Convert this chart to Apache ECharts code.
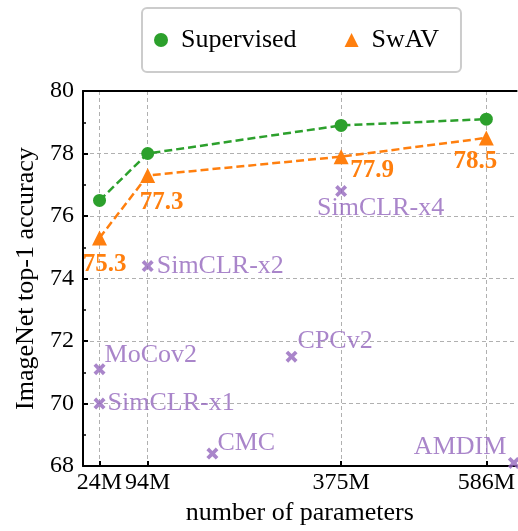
<!DOCTYPE html>
<html><head><meta charset="utf-8">
<script src="https://cdn.jsdelivr.net/npm/echarts@6/dist/echarts.min.js"></script>
<style>html,body{margin:0;padding:0;background:#fff}#c{width:518px;height:531px}</style>
</head><body><div id="c"></div>
<script>
// ---- data ----
const params = [24, 94, 375, 586];
const supervised = [76.5, 78.0, 78.9, 79.1];
const swav = [75.3, 77.3, 77.9, 78.5];
const otherNames = ['MoCov2', 'SimCLR-x1', 'SimCLR-x2', 'SimCLR-x4', 'CMC', 'CPCv2', 'AMDIM'];
const otherParams = [24, 24, 94, 375, 188, 303, 626];
const otherAcc = [71.1, 70.0, 74.4, 76.8, 68.4, 71.5, 68.1];
const xTickValues = [24, 94, 375, 586];

// ---- label placement (style) ----
const swavLabelOffsets = [[5, 27], [14, 27], [31, 14], [-11, 24]];
const otherLabelOffsets = [[5, -14], [8, 0], [9, 0], [-24, 17], [5, -10], [6, -16], [-100, -16]];

const FONT = 'Liberation Serif';
const GREEN = '#2ca02c', ORANGE = '#ff7f0e', PURPLE = '#9467bd';
const legendText = {fontFamily: FONT, fontSize: 26, color: '#000', padding: [0, 0, 0, 8]};

const chart = echarts.init(document.getElementById('c'), null, {renderer: 'canvas'});
chart.setOption({
  animation: false,
  backgroundColor: '#fff',
  textStyle: {fontFamily: FONT},
  grid: {left: 83, right: 0, top: 91, bottom: 58, containLabel: false},
  legend: {
    left: 142, top: 8,
    data: [{name: 'Supervised', icon: 'circle'}, {name: 'SwAV', icon: 'triangle'}],
    itemWidth: 14, itemHeight: 14, itemGap: 48,
    padding: [19, 22, 19, 12], borderColor: '#cccccc', borderWidth: 2, borderRadius: 5,
    textStyle: legendText
  },
  xAxis: [{
    type: 'value', min: 0, max: 630,
    name: 'number of parameters', nameLocation: 'middle', nameGap: 22,
    nameTextStyle: {fontFamily: FONT, fontSize: 26, color: '#000'},
    axisLine: {show: true, onZero: false, lineStyle: {color: '#000', width: 2}},
    axisTick: {show: true, inside: true, length: 5, lineStyle: {color: '#000', width: 2}, customValues: xTickValues},
    axisLabel: {fontFamily: FONT, fontSize: 24, color: '#000', margin: 5, customValues: xTickValues,
      formatter: v => v + 'M'},
    splitLine: {show: true, lineStyle: {color: '#b0b0b0', width: 1, type: [4, 3]}}
  }, {
    type: 'value', min: 0, max: 630, position: 'top',
    axisLine: {show: true, onZero: false, lineStyle: {color: '#000', width: 2}},
    axisTick: {show: false}, axisLabel: {show: false}, splitLine: {show: false}
  }],
  yAxis: {
    type: 'value', min: 68, max: 80, interval: 2,
    name: 'ImageNet top-1 accuracy', nameLocation: 'middle', nameGap: 44, nameRotate: 90,
    nameTextStyle: {fontFamily: FONT, fontSize: 26, color: '#000'},
    axisLine: {show: true, onZero: false, lineStyle: {color: '#000', width: 2}},
    axisTick: {show: true, inside: true, length: 5, lineStyle: {color: '#000', width: 2}},
    minorTick: {show: true, splitNumber: 2, length: 3, lineStyle: {color: '#000', width: 1.5}},
    axisLabel: {fontFamily: FONT, fontSize: 24, color: '#000', margin: 9},
    splitLine: {show: true, lineStyle: {color: '#b0b0b0', width: 1, type: [4, 3]}}
  },
  series: [{
    name: 'Supervised', type: 'line',
    data: params.map((p, i) => [p, supervised[i]]),
    symbol: 'circle', symbolSize: 13,
    itemStyle: {color: GREEN},
    lineStyle: {color: GREEN, width: 2.5, type: [8, 4]},
    z: 3
  }, {
    name: 'SwAV', type: 'line',
    data: params.map((p, i) => ({
      value: [p, swav[i]],
      label: {offset: swavLabelOffsets[i]}
    })),
    symbol: 'triangle', symbolSize: 15,
    itemStyle: {color: ORANGE},
    lineStyle: {color: ORANGE, width: 2.5, type: [8, 4]},
    label: {show: true, position: 'inside', color: ORANGE, fontFamily: FONT, fontSize: 25, fontWeight: 'bold',
      formatter: p => p.value[1].toFixed(1)},
    z: 4
  }, {
    name: 'others', type: 'scatter',
    data: otherNames.map((n, i) => ({
      name: n, value: [otherParams[i], otherAcc[i]],
      label: {offset: otherLabelOffsets[i]}
    })),
    symbol: 'path://M0,2.2L2.2,0L5,2.8L7.8,0L10,2.2L7.2,5L10,7.8L7.8,10L5,7.2L2.2,10L0,7.8L2.8,5Z', symbolSize: 12,
    itemStyle: {color: PURPLE, borderWidth: 0},
    label: {show: true, position: 'inside', align: 'left', color: PURPLE, fontFamily: FONT, fontSize: 26,
      formatter: p => p.name},
    clip: false,
    z: 5
  }]
});
</script></body></html>
